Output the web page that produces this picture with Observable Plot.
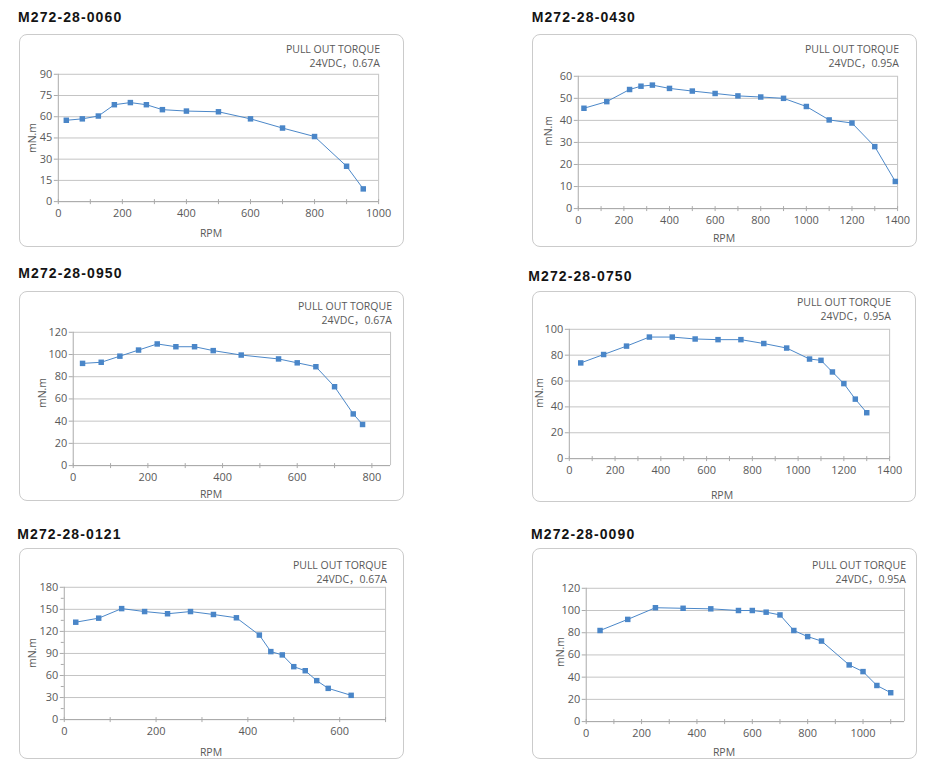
<!DOCTYPE html>
<html>
<head>
<meta charset="utf-8">
<script src="https://cdn.jsdelivr.net/npm/d3@7"></script>
<script src="https://cdn.jsdelivr.net/npm/@observablehq/plot@0.6"></script>
<style>
  html, body { margin: 0; padding: 0; background: #fff; }
  body { width: 929px; height: 784px; position: relative; overflow: hidden; font-family: "Open Sans", "Noto Sans CJK SC", sans-serif; }
  .title { position: absolute; font: bold 14px "Liberation Sans", Arial, sans-serif; line-height: 14px; letter-spacing: 1.1px; color: #141414; white-space: nowrap; }
  .box { position: absolute; border: 1px solid #cbcbcb; border-radius: 8px; box-sizing: border-box; }
  .box svg { position: absolute; left: -1px; top: -1px; }
  .note { position: absolute; text-align: right; font-size: 10.5px; line-height: 14px; color: #595959; white-space: nowrap; font-family: "Open Sans", "Noto Sans CJK SC", sans-serif; }
  .lab { position: absolute; font-size: 10.5px; line-height: 1; color: #595959; white-space: nowrap; transform: translate(-50%, -50%); }
  .lab.rot { transform: translate(-50%, -50%) rotate(-90deg); }
</style>
</head>
<body>
<script>
// ---------- data ----------
const titles = ["M272-28-0060", "M272-28-0430", "M272-28-0950", "M272-28-0750", "M272-28-0121", "M272-28-0090"];
const noteLine1 = "PULL OUT TORQUE";
const ratings = ["24VDC，0.67A", "24VDC，0.95A", "24VDC，0.67A", "24VDC，0.95A", "24VDC，0.67A", "24VDC，0.95A"];
const xTitle = "RPM";
const yTitle = "mN.m";

const rpm0060 = [25, 75, 125, 175, 225, 275, 325, 400, 500, 600, 700, 800, 900, 952];
const torque0060 = [57.5, 58.5, 60.5, 68.5, 70, 68.5, 65, 64, 63.5, 58.5, 52, 46, 25, 9];

const rpm0430 = [25, 125, 225, 275, 325, 400, 500, 600, 700, 800, 900, 1000, 1100, 1200, 1300, 1390];
const torque0430 = [45.5, 48.5, 54, 55.5, 56, 54.5, 53.3, 52.2, 51.1, 50.6, 50, 46.3, 40.2, 38.8, 28.1, 12.3];

const rpm0950 = [25, 75, 125, 175, 225, 275, 325, 375, 450, 550, 600, 650, 700, 750, 775];
const torque0950 = [92, 93, 98.5, 104, 109.5, 107, 107, 103.5, 99.5, 96, 92.5, 89, 71, 46.5, 37];

const rpm0750 = [50, 150, 250, 350, 450, 550, 650, 750, 850, 950, 1050, 1100, 1150, 1200, 1250, 1300];
const torque0750 = [74, 80.5, 87, 94, 94, 92.5, 92, 92, 89, 85.5, 77, 76, 67, 58, 46, 35.5];

const rpm0121 = [25, 75, 125, 175, 225, 275, 325, 375, 425, 450, 475, 500, 525, 550, 575, 625];
const torque0121 = [132.5, 138, 151, 147, 144, 147, 143, 138.5, 115, 92.5, 88, 72, 66.5, 53, 42.5, 33];

const rpm0090 = [50, 150, 250, 350, 450, 550, 600, 650, 700, 750, 800, 850, 950, 1000, 1050, 1100];
const torque0090 = [82, 92, 102.5, 102, 101.5, 100, 100, 98.5, 96, 82, 76.5, 72.5, 51, 45, 32.5, 26];

// tick labels
const xTicks1000 = [0, 200, 400, 600, 800, 1000];
const xTicks1400 = [0, 200, 400, 600, 800, 1000, 1200, 1400];
const xTicks800 = [0, 200, 400, 600, 800];
const xTicks600 = [0, 200, 400, 600];
const yTicks90 = [0, 15, 30, 45, 60, 75, 90];
const yTicks60 = [0, 10, 20, 30, 40, 50, 60];
const yTicks120 = [0, 20, 40, 60, 80, 100, 120];
const yTicks100 = [0, 20, 40, 60, 80, 100];
const yTicks180 = [0, 30, 60, 90, 120, 150, 180];
const yMinor180 = [15, 45, 75, 105, 135, 165];

// ---------- layout (positions only) ----------
const layouts = [
  {bx: 19,  by: 34,  bw: 385, bh: 213, ml: 39, mr: 24, mt: 40, mb: 45, nt: 8,   yl: [12.7, 104], xl: [192, 198.7], tl: 18,    tb: 21.7},
  {bx: 532, by: 34,  bw: 385, bh: 213, ml: 46, mr: 18, mt: 42, mb: 38, nt: 8,   yl: [16.3, 97],  xl: [192, 204],   tl: 531.7, tb: 21.7},
  {bx: 19,  by: 291, bw: 385, bh: 210, ml: 54, mr: 12, mt: 41, mb: 35, nt: 7.7, yl: [22.7, 102], xl: [192, 203.3], tl: 18.3,  tb: 278.3},
  {bx: 532, by: 291, bw: 384, bh: 211, ml: 37, mr: 25, mt: 38, mb: 43, nt: 4.3, yl: [7, 102],    xl: [190, 204.3], tl: 528.3, tb: 281},
  {bx: 19,  by: 548, bw: 385, bh: 211, ml: 45, mr: 17, mt: 39, mb: 39, nt: 10,  yl: [13, 105],   xl: [192, 204.3], tl: 17.3,  tb: 539.3},
  {bx: 532, by: 548, bw: 385, bh: 211, ml: 54, mr: 11, mt: 40, mb: 37, nt: 10,  yl: [28, 103.7], xl: [192, 204],   tl: 531,   tb: 539.3}
];

const panels = [
  {rpm: rpm0060, torque: torque0060, xDomain: [0, 1000], xTicks: xTicks1000, yDomain: [0, 90],  yTicks: yTicks90,  yMinor: null},
  {rpm: rpm0430, torque: torque0430, xDomain: [0, 1400], xTicks: xTicks1400, yDomain: [0, 60],  yTicks: yTicks60,  yMinor: null},
  {rpm: rpm0950, torque: torque0950, xDomain: [0, 850],  xTicks: xTicks800,  yDomain: [0, 120], yTicks: yTicks120, yMinor: null},
  {rpm: rpm0750, torque: torque0750, xDomain: [0, 1400], xTicks: xTicks1400, yDomain: [0, 100], yTicks: yTicks100, yMinor: null},
  {rpm: rpm0121, torque: torque0121, xDomain: [0, 700],  xTicks: xTicks600,  yDomain: [0, 180], yTicks: yTicks180, yMinor: yMinor180},
  {rpm: rpm0090, torque: torque0090, xDomain: [0, 1150], xTicks: xTicks1000, yDomain: [0, 120], yTicks: yTicks120, yMinor: null}
];

const BLUE = "#4a86c8";
const GRID = "#c4c4c4";
const AXIS = "#a9a9a9";
const TEXT = "#595959";
const plain = d => String(d);

panels.forEach((p, i) => {
  const L = layouts[i];
  const data = p.rpm.map((r, k) => ({rpm: r, torque: p.torque[k]}));
  const minorX = d3.range(0, p.xDomain[1] + 1, 100);

  // title
  const t = document.createElement("div");
  t.className = "title";
  t.textContent = titles[i];
  t.style.left = L.tl + "px";
  t.style.top = (L.tb - 11.85) + "px";
  document.body.appendChild(t);

  // box
  const box = document.createElement("div");
  box.className = "box";
  box.style.left = L.bx + "px";
  box.style.top = L.by + "px";
  box.style.width = L.bw + "px";
  box.style.height = L.bh + "px";
  document.body.appendChild(box);

  const chart = Plot.plot({
    width: L.bw,
    height: L.bh,
    marginLeft: L.ml,
    marginRight: L.mr,
    marginTop: L.mt,
    marginBottom: L.mb,
    x: {domain: p.xDomain, label: null},
    y: {domain: p.yDomain, label: null},
    style: {fontFamily: "'Open Sans', sans-serif", fontSize: "11px", color: TEXT, background: "transparent", overflow: "visible"},
    marks: [
      Plot.gridY(p.yTicks, {stroke: GRID, strokeOpacity: 1, strokeWidth: 1}),
      Plot.ruleX([p.xDomain[1]], {stroke: GRID, strokeWidth: 1}),
      Plot.axisY(p.yTicks, {tickSize: 4, tickPadding: 2, stroke: AXIS, fill: TEXT, label: null, tickFormat: plain}),
      p.yMinor ? Plot.axisY(p.yMinor, {tickSize: 3, tickFormat: () => "", stroke: AXIS, label: null}) : null,
      Plot.axisX(minorX, {tickSize: 5, dy: -2, tickFormat: () => "", stroke: AXIS, label: null}),
      Plot.axisX(p.xTicks, {tickSize: 0, tickPadding: 8, fill: TEXT, label: null, tickFormat: plain}),
      Plot.ruleX([0], {stroke: AXIS, strokeWidth: 1}),
      Plot.ruleY([0], {stroke: AXIS, strokeWidth: 1}),
      Plot.line(data, {x: "rpm", y: "torque", stroke: BLUE, strokeWidth: 1}),
      Plot.dot(data, {x: "rpm", y: "torque", symbol: "square", r: 3.1, fill: BLUE, stroke: "none"})
    ]
  });
  box.appendChild(chart);

  // notes
  const note = document.createElement("div");
  note.className = "note";
  note.style.right = (L.mr - 1) + "px";
  note.style.top = (L.nt - 1) + "px";
  note.innerHTML = noteLine1 + "<br>" + ratings[i];
  box.appendChild(note);

  // axis titles
  const yl = document.createElement("div");
  yl.className = "lab rot";
  yl.textContent = yTitle;
  yl.style.left = (L.yl[0] - 1) + "px";
  yl.style.top = (L.yl[1] - 1) + "px";
  box.appendChild(yl);

  const xl = document.createElement("div");
  xl.className = "lab";
  xl.textContent = xTitle;
  xl.style.left = (L.xl[0] - 1) + "px";
  xl.style.top = (L.xl[1] - 1) + "px";
  box.appendChild(xl);
});
</script>
</body>
</html>
